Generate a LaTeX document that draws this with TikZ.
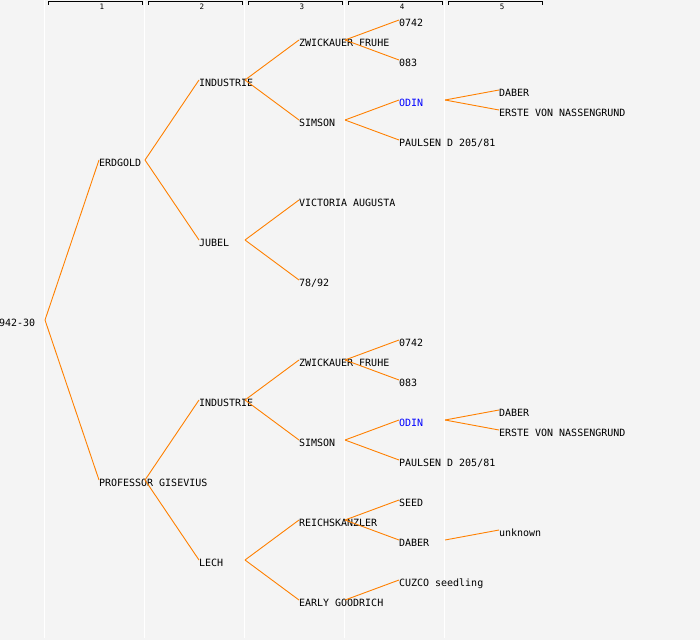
\documentclass[tikz,border=0pt]{standalone}
\usepackage{fontspec}
\setmonofont{DejaVu Sans Mono}
\definecolor{bgc}{RGB}{244,244,244}
\definecolor{lnc}{RGB}{255,128,0}
\definecolor{odinc}{RGB}{0,0,255}
\newcommand{\pedge}[2]{\draw[edgeline] ([xshift=46pt,yshift=6pt]#1.base west) -- ([yshift=6pt]#2.base west);}
\begin{document}
\begin{tikzpicture}[x=1pt,y=-1pt,
  lbl/.style={anchor=base west, inner sep=0pt, outer sep=0pt, font=\ttfamily\fontsize{10}{10}\selectfont},
  hdr/.style={anchor=center, inner sep=0pt, font=\ttfamily\fontsize{7.5}{7.5}\selectfont},
  edgeline/.style={draw=lnc, line width=0.9pt},
  colline/.style={draw=white, line width=1pt},
  bracket/.style={draw=black, line width=0.8pt}]
\useasboundingbox (0,0) rectangle (700,640);
\fill[bgc] (0,0) rectangle (700,640);
% column lines and headers
\foreach \k in {0,1,2,3,4} {
  \draw[colline] ({100*\k+44.5},0) -- ({100*\k+44.5},637.5);
}
\foreach \k in {1,2,3,4,5} {
  \draw[bracket] ({100*\k-52},4.5) -- ({100*\k-52},1.5) -- ({100*\k+42},1.5) -- ({100*\k+42},4.5);
  \node[hdr] (h\k) at ({100*\k+2},6.8) {\k};
}
% nodes: (x, y+4)
\node[lbl] (r) at (-1,326) {942-30};
\node[lbl] (a) at (99,166) {ERDGOLD};
\node[lbl] (b) at (99,486) {PROFESSOR GISEVIUS};
\node[lbl] (a1) at (199,86) {INDUSTRIE};
\node[lbl] (a2) at (199,246) {JUBEL};
\node[lbl] (a11) at (299,46) {ZWICKAUER FRUHE};
\node[lbl] (a12) at (299,126) {SIMSON};
\node[lbl] (a111) at (399,26) {0742};
\node[lbl] (a112) at (399,66) {083};
\node[lbl,text=odinc] (a121) at (399,106) {ODIN};
\node[lbl] (a122) at (399,146) {PAULSEN D 205/81};
\node[lbl] (a1211) at (499,96) {DABER};
\node[lbl] (a1212) at (499,116) {ERSTE VON NASSENGRUND};
\node[lbl] (a21) at (299,206) {VICTORIA AUGUSTA};
\node[lbl] (a22) at (299,286) {78/92};
\node[lbl] (b1) at (199,406) {INDUSTRIE};
\node[lbl] (b11) at (299,366) {ZWICKAUER FRUHE};
\node[lbl] (b111) at (399,346) {0742};
\node[lbl] (b112) at (399,386) {083};
\node[lbl] (b12) at (299,446) {SIMSON};
\node[lbl,text=odinc] (b121) at (399,426) {ODIN};
\node[lbl] (b1211) at (499,416) {DABER};
\node[lbl] (b1212) at (499,436) {ERSTE VON NASSENGRUND};
\node[lbl] (b122) at (399,466) {PAULSEN D 205/81};
\node[lbl] (b2) at (199,566) {LECH};
\node[lbl] (b21) at (299,526) {REICHSKANZLER};
\node[lbl] (b211) at (399,506) {SEED};
\node[lbl] (b212) at (399,546) {DABER};
\node[lbl] (b2121) at (499,536) {unknown};
\node[lbl] (b22) at (299,606) {EARLY GOODRICH};
\node[lbl] (b221) at (399,586) {CUZCO seedling};
% edges
\pedge{r}{a} \pedge{r}{b}
\pedge{a}{a1} \pedge{a}{a2}
\pedge{a1}{a11} \pedge{a1}{a12}
\pedge{a11}{a111} \pedge{a11}{a112}
\pedge{a12}{a121} \pedge{a12}{a122}
\pedge{a121}{a1211} \pedge{a121}{a1212}
\pedge{a2}{a21} \pedge{a2}{a22}
\pedge{b}{b1} \pedge{b}{b2}
\pedge{b1}{b11} \pedge{b1}{b12}
\pedge{b11}{b111} \pedge{b11}{b112}
\pedge{b12}{b121} \pedge{b12}{b122}
\pedge{b121}{b1211} \pedge{b121}{b1212}
\pedge{b2}{b21} \pedge{b2}{b22}
\pedge{b21}{b211} \pedge{b21}{b212}
\pedge{b212}{b2121}
\pedge{b22}{b221}
\end{tikzpicture}
\end{document}
